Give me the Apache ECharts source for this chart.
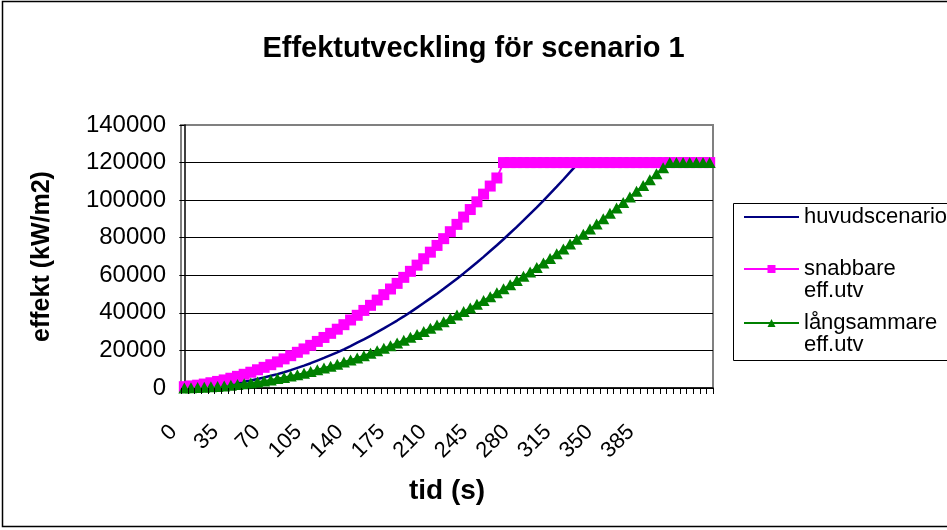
<!DOCTYPE html>
<html>
<head>
<meta charset="utf-8">
<script src="https://cdn.jsdelivr.net/npm/echarts@6/dist/echarts.min.js"></script>
<style>
  html, body { margin: 0; padding: 0; background: #fff; }
  #chart { width: 947px; height: 530px; }
</style>
</head>
<body>
<div id="chart"></div>
<script>
// Sampling interval of the simulation (seconds between points)
const tidsteg = 5.6;

// Effect per scenario, kW/m2, one value per time step
const huvudscenario = [
  0, 100, 300, 500, 800, 1200, 1600, 2100, 2700, 3300,
  4000, 4800, 5600, 6500, 7400, 8400, 9500, 10700, 11900, 13200,
  14600, 16000, 17500, 19000, 20600, 22300, 24100, 25900, 27800, 29700,
  31700, 33800, 35900, 38100, 40400, 42800, 45200, 47700, 50200, 52800,
  55500, 58200, 61000, 63900, 66800, 69800, 72900, 76000, 79200, 82500,
  85800, 89200, 92700, 96200, 99800, 103500, 107200, 111000, 114900, 118800,
  120000, 120000, 120000, 120000, 120000, 120000, 120000, 120000, 120000, 120000,
  120000, 120000, 120000, 120000, 120000, 120000, 120000, 120000, 120000, 120000
];
const snabbare = [
  700, 1100, 1500, 2100, 2800, 3500, 4300, 5200, 6200, 7300,
  8400, 9700, 11000, 12400, 13900, 15500, 17200, 19000, 20800, 22700,
  24800, 26900, 29100, 31300, 33700, 36200, 38700, 41300, 44000, 46800,
  49700, 52700, 55700, 58900, 62100, 65400, 68800, 72300, 75900, 79500,
  83200, 87100, 91000, 95000, 99100, 103200, 107500, 111800, 120000, 120000,
  120000, 120000, 120000, 120000, 120000, 120000, 120000, 120000, 120000, 120000,
  120000, 120000, 120000, 120000, 120000, 120000, 120000, 120000, 120000, 120000,
  120000, 120000, 120000, 120000, 120000, 120000, 120000, 120000, 120000, 120000
];
const langsammare = [
  0, 100, 200, 400, 600, 800, 1100, 1400, 1800, 2200,
  2700, 3200, 3700, 4300, 5000, 5600, 6400, 7100, 7900, 8800,
  9700, 10600, 11600, 12700, 13800, 14900, 16000, 17200, 18500, 19800,
  21100, 22500, 24000, 25400, 27000, 28500, 30100, 31800, 33500, 35200,
  37000, 38800, 40700, 42600, 44600, 46600, 48600, 50700, 52800, 55000,
  57200, 59500, 61800, 64200, 66600, 69000, 71500, 74000, 76600, 79200,
  81900, 84600, 87300, 90100, 93000, 95800, 98800, 101700, 104700, 107800,
  110900, 114000, 117200, 120000, 120000, 120000, 120000, 120000, 120000, 120000
];

// Time labels on the x axis (seconds)
const tidEtiketter = [0, 35, 70, 105, 140, 175, 210, 245, 280, 315, 350, 385];

const serieNamn = ['huvudscenario', 'snabbare eff.utv', 'långsammare eff.utv'];

const FONT = '"Liberation Sans", Arial, sans-serif';

const tid = huvudscenario.map((_, i) => +(i * tidsteg).toFixed(3));
const punkter = vals => vals.map((v, i) => [tid[i], v]);
// value range runs half a step beyond the first and last sample
const xMin = tid[0] - tidsteg / 2;
const xMax = tid[tid.length - 1] + tidsteg / 2;
// tick marks sit between neighbouring samples
const tickLagen = tid.map(t => t - tidsteg / 2).concat([xMax]);

const chart = echarts.init(document.getElementById('chart'), null, { renderer: 'canvas' });

// legend entry tops
const legendTop = [206, 236, 290];

chart.setOption({
  animation: false,
  backgroundColor: '#fff',
  title: {
    text: 'Effektutveckling för scenario 1',
    left: 'center',
    top: 29,
    textStyle: { fontFamily: FONT, fontSize: 29, fontWeight: 'bold', color: '#000' }
  },
  grid: {
    left: 181, top: 125, right: 234, bottom: 142,
    show: true, borderColor: '#808080', borderWidth: 2,
    containLabel: false, outerBoundsMode: 'none'
  },
  xAxis: {
    type: 'value',
    min: xMin, max: xMax,
    axisLine: { onZero: false, lineStyle: { color: '#000', width: 1.5 } },
    axisTick: { show: false },
    axisLabel: {
      customValues: tidEtiketter, rotate: 45, margin: 30, padding: [0, 15, 0, 0],
      fontFamily: FONT, fontSize: 22, color: '#000', hideOverlap: false
    },
    splitLine: { show: false },
    name: 'tid (s)',
    nameLocation: 'middle',
    nameGap: 89,
    nameMoveOverlap: false,
    nameTextStyle: { fontFamily: FONT, fontSize: 28, fontWeight: 'bold', color: '#000' }
  },
  yAxis: {
    type: 'value',
    min: 0, max: 140000, interval: 20000,
    axisLine: { show: true, lineStyle: { color: '#000', width: 1.5 } },
    axisTick: { show: true, length: 5, lineStyle: { color: '#000', width: 1 } },
    axisLabel: { fontFamily: FONT, fontSize: 24, color: '#000', margin: 15, formatter: v => String(v) },
    splitLine: {
      show: true,
      lineStyle: { color: ['#000', '#000', '#000', '#000', '#000', '#000', '#000', '#808080'], width: 1 }
    },
    name: 'effekt (kW/m2)',
    nameLocation: 'middle',
    nameGap: 126,
    nameRotate: 90,
    nameMoveOverlap: false,
    nameTextStyle: { fontFamily: FONT, fontSize: 25, fontWeight: 'bold', color: '#000' }
  },
  legend: serieNamn.map((n, k) => ({
    data: [k === 0 ? { name: n, itemStyle: { color: 'rgba(0,0,0,0)', borderWidth: 0 } } : n],
    orient: 'vertical',
    left: 743,
    top: legendTop[k],
    padding: 0,
    itemWidth: 55,
    itemHeight: 10,
    itemGap: 5,
    selectedMode: false,
    // two-word names wrap; a blank first row keeps the icon level with the first word
    formatter: s => (s.indexOf(' ') > 0 ? '\n' + s.replace(' ', '\n') : s),
    textStyle: { fontFamily: FONT, fontSize: 22, color: '#000', lineHeight: 22 }
  })),
  graphic: [
    { type: 'rect', silent: true, shape: { x: 2.5, y: 1.5, width: 1000, height: 525 },
      style: { fill: 'none', stroke: '#000', lineWidth: 1.5 } },
    { type: 'rect', silent: true, shape: { x: 733.5, y: 203.5, width: 300, height: 157 },
      style: { fill: 'none', stroke: '#000', lineWidth: 1 } }
  ],
  series: [
    {
      name: serieNamn[0], type: 'line', data: punkter(huvudscenario),
      symbol: 'none', silent: true,
      lineStyle: { color: '#000080', width: 2.5 }, itemStyle: { color: '#000080' }
    },
    {
      name: serieNamn[1], type: 'line', data: punkter(snabbare),
      symbol: 'rect', symbolSize: 11, showAllSymbol: true, silent: true,
      lineStyle: { color: '#ff00ff', width: 2 }, itemStyle: { color: '#ff00ff' }
    },
    {
      name: serieNamn[2], type: 'line', data: punkter(langsammare),
      symbol: 'triangle', symbolSize: [12, 11], showAllSymbol: true, silent: true,
      lineStyle: { color: '#008000', width: 2 }, itemStyle: { color: '#008000' }
    },
    {
      // short tick marks hanging below the time axis, on their own layer
      type: 'custom',
      silent: true,
      clip: false,
      zlevel: 1,
      z: 20,
      data: tickLagen.map(t => [t]),
      renderItem: (params, api) => {
        const p = api.coord([api.value(0), 0]);
        const x = Math.round(p[0]) + 0.5;
        return {
          type: 'line',
          shape: { x1: x, y1: p[1], x2: x, y2: p[1] + 6 },
          style: { stroke: '#000', lineWidth: 1 }
        };
      }
    }
  ]
});
</script>
</body>
</html>
